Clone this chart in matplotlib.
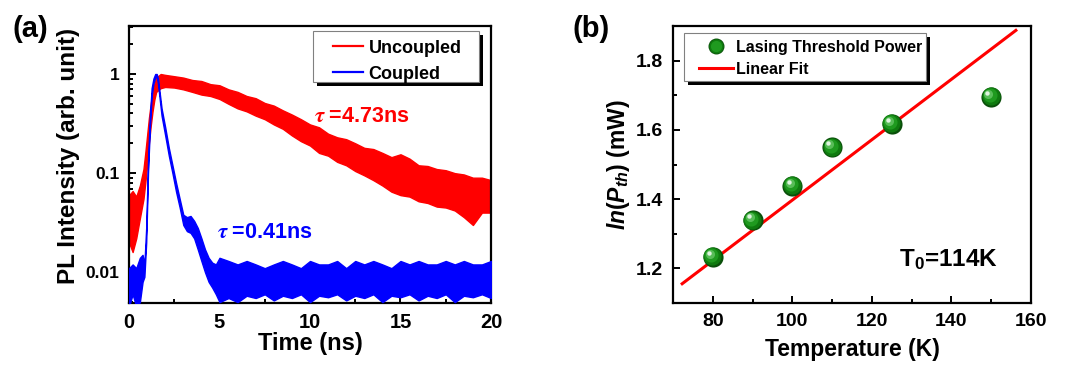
import matplotlib
matplotlib.use("Agg")
import matplotlib.pyplot as plt
from matplotlib.lines import Line2D
from matplotlib.patches import Rectangle
from matplotlib.transforms import offset_copy
from matplotlib.ticker import LogLocator, MultipleLocator, FixedLocator, NullFormatter
from matplotlib.legend_handler import HandlerTuple

plt.rcParams['font.family'] = ['Liberation Sans', 'DejaVu Sans']
plt.rcParams['font.weight'] = 'bold'
plt.rcParams['mathtext.fontset'] = 'custom'
plt.rcParams['mathtext.rm'] = 'Liberation Sans:bold'
plt.rcParams['mathtext.bf'] = 'Liberation Sans:bold'
plt.rcParams['mathtext.it'] = 'Liberation Sans:bold:italic'

# ---------------- data: panel (a) PL decay envelopes ----
red_t = [0, 0.2, 0.4, 0.6, 0.8, 0.9, 1.0, 1.1, 1.2, 1.3, 1.4, 1.5, 1.75, 2.0,
         2.5, 3.0, 3.5, 4.0, 4.5, 5.0, 5.5, 6.0, 6.5, 7.0, 7.5, 8.0, 8.5, 9.0,
         9.5, 10, 10.5, 11, 11.5, 12, 12.5, 13, 13.5, 14, 14.5, 15, 15.5, 16,
         16.5, 17, 17.5, 18, 18.5, 19, 19.5, 20]
red_hi = [0.060, 0.066, 0.058, 0.075, 0.11, 0.16, 0.24, 0.36, 0.50, 0.66, 0.80,
          0.92, 1.00, 0.98, 0.95, 0.92, 0.87, 0.85, 0.79, 0.77, 0.70, 0.66,
          0.60, 0.57, 0.51, 0.48, 0.43, 0.39, 0.35, 0.31, 0.29, 0.25, 0.23,
          0.22, 0.20, 0.18, 0.175, 0.16, 0.145, 0.155, 0.14, 0.12, 0.118,
          0.11, 0.107, 0.10, 0.097, 0.09, 0.09, 0.085]
red_lo = [0.020, 0.016, 0.022, 0.035, 0.055, 0.080, 0.12, 0.20, 0.30, 0.42,
          0.55, 0.66, 0.72, 0.74, 0.73, 0.70, 0.66, 0.62, 0.60, 0.56, 0.50,
          0.45, 0.42, 0.38, 0.35, 0.31, 0.28, 0.24, 0.21, 0.19, 0.16, 0.15,
          0.13, 0.12, 0.105, 0.095, 0.085, 0.075, 0.065, 0.060, 0.058, 0.052,
          0.050, 0.046, 0.045, 0.042, 0.036, 0.030, 0.040, 0.040]

blue_t = [0, 0.2, 0.4, 0.6, 0.75, 0.85, 0.95, 1.05, 1.15, 1.25, 1.35, 1.45,
          1.53, 1.6, 1.8, 2.0, 2.2, 2.4, 2.6, 2.8, 3.0, 3.2, 3.4, 3.6, 3.8,
          4.0, 4.2, 4.4, 4.6, 4.8, 5.0, 5.5, 6, 6.5, 7, 7.5, 8, 8.5, 9, 9.5,
          10, 10.5, 11, 11.5, 12, 12.5, 13, 13.5, 14, 14.5, 15, 15.5, 16,
          16.5, 17, 17.5, 18, 18.5, 19, 19.5, 20]
blue_hi = [0.011, 0.012, 0.011, 0.014, 0.015, 0.012, 0.028, 0.13, 0.36, 0.72,
           0.90, 1.00, 1.00, 0.90, 0.45, 0.29, 0.18, 0.12, 0.08, 0.055,
           0.038, 0.036, 0.037, 0.033, 0.028, 0.022, 0.017, 0.014, 0.0125,
           0.012, 0.014, 0.013, 0.012, 0.013, 0.012, 0.011, 0.012, 0.013,
           0.012, 0.011, 0.013, 0.012, 0.012, 0.013, 0.011, 0.013, 0.012,
           0.013, 0.012, 0.011, 0.013, 0.012, 0.013, 0.012, 0.012, 0.013,
           0.012, 0.013, 0.012, 0.012, 0.013]
blue_lo = [0.0045, 0.006, 0.0045, 0.005, 0.008, 0.009, 0.020, 0.10, 0.28,
           0.60, 0.80, 0.92, 0.95, 0.80, 0.38, 0.24, 0.15, 0.10, 0.065,
           0.045, 0.030, 0.026, 0.025, 0.022, 0.017, 0.013, 0.010, 0.008,
           0.007, 0.006, 0.005, 0.0055, 0.0050, 0.0058, 0.0055, 0.0060,
           0.0052, 0.0058, 0.0055, 0.0060, 0.0050, 0.0058, 0.0056, 0.0060,
           0.0052, 0.0058, 0.0055, 0.0060, 0.0050, 0.0058, 0.0056, 0.0060,
           0.0052, 0.0058, 0.0055, 0.0060, 0.0050, 0.0058, 0.0056, 0.0060,
           0.0055]

tau_labels = [r'$\boldsymbol{\tau}$ =4.73ns', r'$\boldsymbol{\tau}$ =0.41ns']
tau_pos = [(10.2, 0.37), (4.85, 0.025)]
legend_a = ['Uncoupled', 'Coupled']

# ---------------- data: panel (b) ----------------
temp_K = [80, 90, 100, 110, 125, 150]
ln_pth = [1.233, 1.339, 1.439, 1.550, 1.617, 1.695]
fit_T = [72, 156.5]
fit_ln = [1.153, 1.890]
legend_b = ['Lasing Threshold Power', 'Linear Fit']

RED = '#ff0000'
BLUE = '#0000ff'

fig = plt.figure(figsize=(10.84, 3.67), dpi=100)
axa = fig.add_axes([129/1084, 64/367, 362/1084, 277/367])
axb = fig.add_axes([673/1084, 64/367, 358/1084, 277/367])

for ax in (axa, axb):
    for s in ax.spines.values():
        s.set_linewidth(1.6)
    ax.tick_params(which='both', direction='in', top=False, right=False,
                   width=1.4, labelsize=14, pad=7)
    ax.tick_params(which='major', length=5)
    ax.tick_params(which='minor', length=3)
axa.tick_params(axis='x', labelsize=14.5)
axa.tick_params(axis='y', labelsize=12.5)

# ---- panel (a)
axa.set_yscale('log')
axa.fill_between(red_t, red_lo, red_hi, color=RED, lw=1.0, zorder=2)
axa.fill_between(blue_t, blue_lo, blue_hi, color=BLUE, lw=1.0, zorder=3)
axa.set_xlim(0, 20)
axa.set_ylim(0.0049, 3.05)
axa.xaxis.set_major_locator(MultipleLocator(5))
axa.xaxis.set_minor_locator(MultipleLocator(2.5))
axa.yaxis.set_major_locator(FixedLocator([0.01, 0.1, 1]))
axa.set_yticklabels(['0.01', '0.1', '1'])
axa.yaxis.set_minor_locator(LogLocator(base=10, subs=range(2, 10), numticks=20))
axa.yaxis.set_minor_formatter(NullFormatter())
axa.set_xlabel('Time (ns)', fontsize=17, fontweight='bold', labelpad=0)
axa.set_ylabel('PL Intensity (arb. unit)', fontsize=17.5, fontweight='bold')
axa.yaxis.set_label_coords(-0.135, 0.53)

for lab, (x, y), c in zip(tau_labels, tau_pos, [RED, BLUE]):
    axa.text(x, y, lab, color=c, fontsize=15.5, fontweight='bold', va='center',
             ha='left', math_fontfamily='stix', zorder=6)

# legend (a) with manual box + shadow
bx, by, bw, bh = 0.508, 0.798, 0.459, 0.184
axa.add_patch(Rectangle((bx + 0.011, by - 0.015), bw, bh, transform=axa.transAxes,
                        facecolor='black', edgecolor='none', zorder=7, clip_on=False))
axa.add_patch(Rectangle((bx, by), bw, bh, transform=axa.transAxes,
                        facecolor='white', edgecolor='#808080', lw=0.8, zorder=7.5,
                        clip_on=False))
ha_ = [Line2D([], [], color=RED, lw=1.6), Line2D([], [], color=BLUE, lw=1.6)]
lga = axa.legend(ha_, legend_a, loc='upper left', bbox_to_anchor=(0.5635, 0.951),
                 frameon=False, borderpad=0, borderaxespad=0,
                 handlelength=1.67, handletextpad=0.3, labelspacing=0.5,
                 prop={'weight': 'bold', 'size': 13})
lga.set_zorder(8)

# ---- panel (b)
SPHERE = [(1.00, '#0a4f0a', 0.00, 0.00),
          (0.90, '#0f7a0f', -0.03, 0.03),
          (0.70, '#1f9a1f', -0.08, 0.08),
          (0.45, '#58bd58', -0.14, 0.14),
          (0.22, '#e0f4e0', -0.19, 0.19)]


def spheres(ax, x, y, ms, z):
    for k, (f, col, dx, dy) in enumerate(SPHERE):
        tr = offset_copy(ax.transData, fig=ax.figure, x=dx * ms, y=dy * ms, units='points')
        ax.plot(x, y, 'o', ms=ms * f, color=col, mew=0, transform=tr, zorder=z + k * 0.01,
                linestyle='none')


axb.plot(fit_T, fit_ln, color=RED, lw=2.2, zorder=3, solid_capstyle='butt')
spheres(axb, temp_K, ln_pth, 14.5, 4)
axb.set_xlim(70, 160)
axb.set_ylim(1.1, 1.9)
axb.xaxis.set_major_locator(MultipleLocator(20))
axb.xaxis.set_minor_locator(MultipleLocator(10))
axb.yaxis.set_major_locator(FixedLocator([1.2, 1.4, 1.6, 1.8]))
axb.yaxis.set_minor_locator(MultipleLocator(0.1))
axb.set_xticks([80, 100, 120, 140, 160])
axb.set_xlabel('Temperature (K)', fontsize=16.5, fontweight='bold', labelpad=6)
axb.set_ylabel(r'$ln(P_{th})$ (mW)', fontsize=16.5, fontweight='bold', labelpad=3,
               math_fontfamily='custom')
axb.text(151.7, 1.225, r'T$_0$=114K', fontsize=17.5, fontweight='bold', ha='right',
         va='center', math_fontfamily='custom')

bx, by, bw, bh = 0.031, 0.801, 0.676, 0.174
axb.add_patch(Rectangle((bx + 0.011, by - 0.015), bw, bh, transform=axb.transAxes,
                        facecolor='black', edgecolor='none', zorder=7, clip_on=False))
axb.add_patch(Rectangle((bx, by), bw, bh, transform=axb.transAxes,
                        facecolor='white', edgecolor='#808080', lw=0.8, zorder=7.5,
                        clip_on=False))
hms = 11.5
sphere_handle = tuple(Line2D([], [], marker='o', ms=hms * f, color=col, mew=0, ls='none')
                      for f, col, dx, dy in SPHERE[:3])
hb = [sphere_handle, Line2D([], [], color=RED, lw=2.2)]
lgb = axb.legend(hb, legend_b, loc='upper left', bbox_to_anchor=(0.0726, 0.951),
                 frameon=False, borderpad=0, borderaxespad=0,
                 handlelength=2.1, handletextpad=0.2, labelspacing=0.44,
                 prop={'weight': 'bold', 'size': 11.5},
                 handler_map={tuple: HandlerTuple(ndivide=1, pad=0)})
lgb.set_zorder(8)

fig.text(12/1084, 1 - 29/367, '(a)', fontsize=21, fontweight='bold', va='center', ha='left')
fig.text(572/1084, 1 - 29/367, '(b)', fontsize=21, fontweight='bold', va='center', ha='left')

fig.savefig('out.png', dpi=100)
